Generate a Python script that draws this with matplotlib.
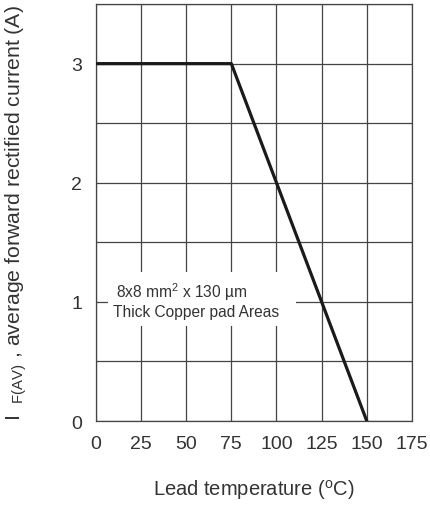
import matplotlib
matplotlib.use('Agg')
import matplotlib.pyplot as plt
from matplotlib.patches import Rectangle

# derating curve
temps = [0, 75, 150]
current = [3, 3, 0]
xticks = [0, 25, 50, 75, 100, 125, 150, 175]
yticks = [0, 1, 2, 3]
note_lines = ['8x8 mm$^2$ x 130 µm', 'Thick Copper pad Areas']

plt.rcParams['font.family'] = ['Liberation Sans', 'DejaVu Sans']
plt.rcParams['mathtext.fontset'] = 'custom'
plt.rcParams['mathtext.rm'] = 'Liberation Sans'
plt.rcParams['mathtext.it'] = 'Liberation Sans'
txt = '#333333'

fig = plt.figure(figsize=(4.3, 5.06), dpi=100)
ax = fig.add_axes([0.223, 0.166, 0.735, 0.824])

ax.set_xlim(0, 175)
ax.set_ylim(0, 3.5)
ax.set_xticks(xticks)
ax.set_yticks(yticks)
ax.set_yticks([i * 0.5 for i in range(8)], minor=True)
ax.grid(which='both', color='#444444', linewidth=0.9)
ax.tick_params(which='both', length=0, labelsize=14, labelcolor=txt, pad=10)
for s in ax.spines.values():
    s.set_linewidth(0.9)
    s.set_color('#444444')

ax.plot(temps, current, color='#1a1a1a', linewidth=2.3, zorder=4)

# note box hides the grid behind it
ax.add_patch(Rectangle((6.6, 0.8), 104, 0.45, facecolor='white',
                       edgecolor='none', zorder=3))
ax.text(11, 1.09, note_lines[0], ha='left', va='center', fontsize=11.2,
        color=txt, zorder=5)
ax.text(9.4, 0.92, note_lines[1], ha='left', va='center', fontsize=11.2,
        color=txt, zorder=5)

ax.set_xlabel('Lead temperature ($^{\\rm o}$C)', fontsize=14.5, color=txt, labelpad=18)
ax.set_ylabel('I  $_{\\rm F(AV)}$ , average forward rectified current (A)',
              fontsize=15.3, color=txt, labelpad=30)

fig.savefig('out.png', dpi=100)
